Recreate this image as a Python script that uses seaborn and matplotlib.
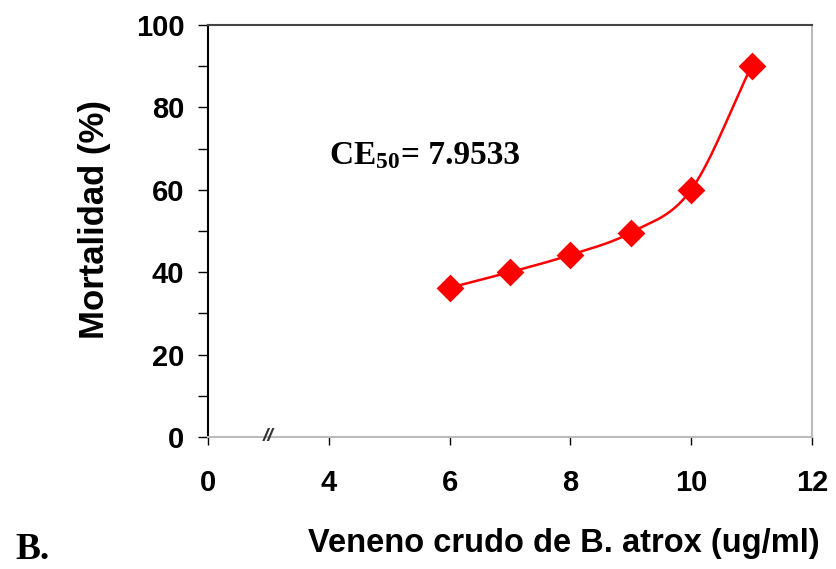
import numpy as np
import pandas as pd
import seaborn as sns
import matplotlib.pyplot as plt
from matplotlib.ticker import MultipleLocator

# datos
concentracion = [6, 7, 8, 9, 10, 11]
mortalidad = [36.2, 40.0, 44.2, 49.6, 60.0, 90.0]
ce50_texto = "7.9533"
# el eje x está cortado: la posición 2 se rotula "0"
x_ticks = [2, 4, 6, 8, 10, 12]
x_labels = ['0', '4', '6', '8', '10', '12']

df = pd.DataFrame({'conc': concentracion, 'mort': mortalidad})


# curva suavizada (Catmull-Rom, como la línea suave de Excel)
def suavizar(x, y, n=30):
    x = np.asarray(x, float)
    y = np.asarray(y, float)
    px = np.concatenate([[2 * x[0] - x[1]], x, [2 * x[-1] - x[-2]]])
    py = np.concatenate([[2 * y[0] - y[1]], y, [2 * y[-1] - y[-2]]])
    xs, ys = [], []
    t = np.linspace(0, 1, n)
    for i in range(1, len(px) - 2):
        for p, out in ((px, xs), (py, ys)):
            p0, p1, p2, p3 = p[i - 1], p[i], p[i + 1], p[i + 2]
            out.extend(0.5 * ((2 * p1) + (-p0 + p2) * t
                              + (2 * p0 - 5 * p1 + 4 * p2 - p3) * t ** 2
                              + (-p0 + 3 * p1 - 3 * p2 + p3) * t ** 3))
    return pd.DataFrame({'conc': xs, 'mort': ys})


curva = suavizar(df['conc'], df['mort'])

sns.set_style('white')
plt.rcParams['font.family'] = ['Liberation Sans', 'DejaVu Sans']
plt.rcParams['mathtext.fontset'] = 'custom'
plt.rcParams['mathtext.rm'] = 'Liberation Serif:bold'
plt.rcParams['mathtext.bf'] = 'Liberation Serif:bold'
plt.rcParams['mathtext.it'] = 'Liberation Serif:bold'
plt.rcParams['text.color'] = 'black'

fig = plt.figure(figsize=(8.37, 5.69), dpi=100)
ax = fig.add_axes([0.2485, 0.232, 0.7215, 0.724])

sns.lineplot(data=curva, x='conc', y='mort', color='#FF0000', linewidth=1.8,
             sort=False, ax=ax)
sns.scatterplot(data=df, x='conc', y='mort', marker='D', s=200, color='#FF0000',
                edgecolor='#FF0000', linewidth=0, ax=ax, zorder=3)

ax.set_xlim(2, 12)
ax.set_ylim(0, 100)
ax.set_xticks(x_ticks)
ax.set_xticklabels(x_labels)
ax.yaxis.set_major_locator(MultipleLocator(20))
ax.yaxis.set_minor_locator(MultipleLocator(10))
ax.tick_params(axis='both', which='both', direction='out', labelsize=21,
               color='black', labelcolor='black', width=1)
ax.tick_params(axis='y', which='major', length=7, left=True, pad=10)
ax.tick_params(axis='y', which='minor', length=7, left=True)
ax.tick_params(axis='x', which='major', length=6, bottom=True, pad=17)
for lab in ax.get_xticklabels() + ax.get_yticklabels():
    lab.set_fontweight('bold')

ax.spines['left'].set_color('black')
ax.spines['top'].set_color('#444444')
ax.spines['right'].set_color('#BBBBBB')
ax.spines['bottom'].set_color('#BBBBBB')
for s in ax.spines.values():
    s.set_linewidth(1.5)
    s.set_visible(True)

# corte del eje x
ax.text(3.0, 0, '//', ha='center', va='center', fontsize=14, color='#333333',
        style='italic', fontweight='bold')

ax.set_ylabel('Mortalidad (%)', fontsize=25, fontweight='bold', color='black')
ax.yaxis.set_label_coords(-0.16, 0.527)
ax.set_xlabel('Veneno crudo de B. atrox (ug/ml)', fontsize=23.5,
              fontweight='bold', color='black')
ax.xaxis.set_label_coords(0.59, -0.22)

ax.text(4.0, 68.3, r'$\mathbf{CE_{50}}$', fontsize=24, ha='left', va='center')
ax.text(5.2, 68.3, '= ' + ce50_texto, fontsize=24, fontweight='bold',
        family='Liberation Serif', ha='left', va='center')
fig.text(0.018, 0.018, 'B.', fontsize=27, fontweight='bold',
         family='Liberation Serif')

fig.savefig('out.png', dpi=100)
